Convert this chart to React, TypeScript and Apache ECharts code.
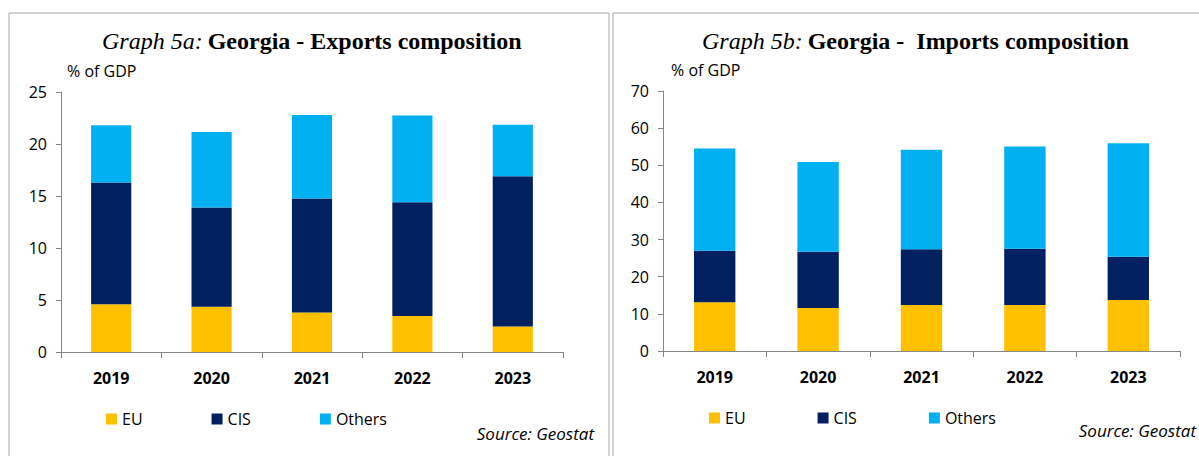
import React, { useEffect, useRef } from "react";
import * as echarts from "echarts";

const years = ["2019", "2020", "2021", "2022", "2023"];
const exportsEU = [4.6, 4.35, 3.8, 3.45, 2.45];
const exportsCIS = [11.7, 9.55, 10.95, 10.95, 14.45];
const exportsOthers = [5.5, 7.25, 8.05, 8.35, 4.95];
const importsEU = [13.15, 11.6, 12.4, 12.4, 13.7];
const importsCIS = [13.85, 15.15, 15.0, 15.1, 11.7];
const importsOthers = [27.5, 24.15, 26.8, 27.55, 30.55];
const seriesNames = ["EU", "CIS", "Others"];
const colors = ["#FFC000", "#002060", "#00B0F0"];

const SANS = "'Open Sans', 'Noto Sans', sans-serif";
const SERIF = "'Liberation Serif', 'DejaVu Serif', serif";

export default function App() {
  const ref = useRef<HTMLDivElement>(null);
  useEffect(() => {
    if (!ref.current) return;
    const chart = echarts.init(ref.current, null, { renderer: "svg" });
    const axisLineGray = { lineStyle: { color: "#868686", width: 1 } };
    const mkX = (gi: number) => ({
      type: "category",
      gridIndex: gi,
      data: years,
      axisLine: axisLineGray,
      axisTick: { show: true, length: 6, lineStyle: { color: "#868686" } },
      axisLabel: { color: "#000", fontSize: 16, fontWeight: "bold", fontFamily: SANS, margin: 18 },
      splitLine: { show: false },
    });
    const mkY = (gi: number, max: number, interval: number) => ({
      type: "value",
      gridIndex: gi,
      min: 0,
      max,
      interval,
      axisLine: { show: true, ...axisLineGray },
      axisTick: { show: true, length: 5, lineStyle: { color: "#868686" } },
      axisLabel: { color: "#000", fontSize: 16, fontFamily: SANS, margin: 14 },
      splitLine: { show: false },
    });
    const mkSeries = (data: number[], idx: number, gi: number, stack: string) => ({
      type: "bar",
      name: seriesNames[idx],
      stack,
      xAxisIndex: gi,
      yAxisIndex: gi,
      data,
      barWidth: "40%",
      itemStyle: { color: colors[idx] },
    });
    const legendBase = {
      icon: "rect",
      itemWidth: 11,
      itemHeight: 11,
      padding: 0,
      textStyle: { color: "#000", fontSize: 16, fontFamily: SANS },
      data: seriesNames,
      selectedMode: false,
    };
    const titleRich = {
      a: { fontFamily: SERIF, fontStyle: "italic", fontWeight: "normal", fontSize: 24, color: "#000" },
      b: { fontFamily: SERIF, fontWeight: "bold", fontSize: 24, color: "#000" },
    };
    chart.setOption({
      animation: false,
      backgroundColor: "#fff",
      title: [
        {
          text: "{a|Graph 5a:} {b|Georgia - Exports composition}",
          left: 97,
          top: 24,
          textStyle: { rich: titleRich },
        },
        {
          text: "{a|Graph 5b:} {b|Georgia -  Imports composition}",
          left: 697,
          top: 24,
          textStyle: { rich: titleRich },
        },
      ],
      legend: [
        { ...legendBase, left: 106, top: 411, itemGap: 69 },
        { ...legendBase, left: 709, top: 410, itemGap: 72 },
      ],
      grid: [
        { left: 61, top: 92, width: 502, height: 260 },
        { left: 663, top: 91, width: 517, height: 260 },
      ],
      xAxis: [mkX(0), mkX(1)],
      yAxis: [mkY(0, 25, 5), mkY(1, 70, 10)],
      series: [
        mkSeries(exportsEU, 0, 0, "exp"),
        mkSeries(exportsCIS, 1, 0, "exp"),
        mkSeries(exportsOthers, 2, 0, "exp"),
        mkSeries(importsEU, 0, 1, "imp"),
        mkSeries(importsCIS, 1, 1, "imp"),
        mkSeries(importsOthers, 2, 1, "imp"),
      ],
      graphic: [
        { type: "rect", shape: { x: 9, y: 13, width: 600, height: 470 }, style: { fill: "none", stroke: "#a6a6a6", lineWidth: 1 }, silent: true },
        { type: "rect", shape: { x: 613, y: 13, width: 600, height: 470 }, style: { fill: "none", stroke: "#a6a6a6", lineWidth: 1 }, silent: true },
        { type: "text", x: 67, y: 71, style: { text: "% of GDP", fill: "#000", font: `16px ${SANS}`, textVerticalAlign: "middle" } },
        { type: "text", x: 671, y: 70, style: { text: "% of GDP", fill: "#000", font: `16px ${SANS}`, textVerticalAlign: "middle" } },
        { type: "text", x: 594, y: 433, style: { text: "Source: Geostat", fill: "#000", font: `italic 17px ${SANS}`, textAlign: "right", textVerticalAlign: "middle" } },
        { type: "text", x: 1196, y: 430, style: { text: "Source: Geostat", fill: "#000", font: `italic 17px ${SANS}`, textAlign: "right", textVerticalAlign: "middle" } },
      ],
    });
    return () => chart.dispose();
  }, []);
  return <div ref={ref} style={{ position: "fixed", left: 0, top: 0, width: 1199, height: 456 }} />;
}
